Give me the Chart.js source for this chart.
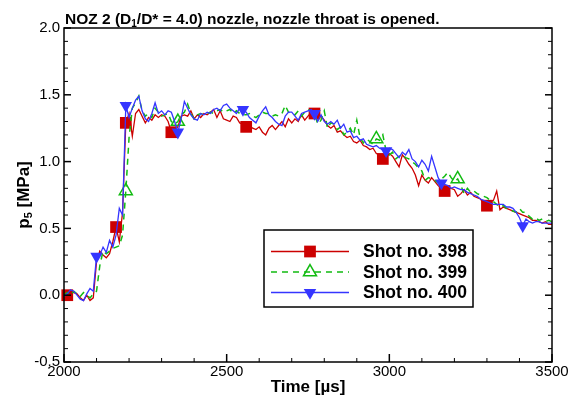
<!DOCTYPE html>
<html>
<head>
<meta charset="utf-8">
<script src="https://cdn.jsdelivr.net/npm/chart.js@4.4.1/dist/chart.umd.min.js"></script>
<style>
  body { margin: 0; background: #fff; }
  #wrap { width: 577px; height: 396px; }
</style>
</head>
<body>
<div id="wrap"><canvas id="p5Chart"></canvas></div>
<script>
const FONT = "'Liberation Sans', Arial, Helvetica, sans-serif";

// sample times [us]
const times = [
  2000, 2010, 2020, 2030, 2040, 2050, 2060, 2070, 2080, 2090,
  2100, 2110, 2120, 2130, 2140, 2150, 2160, 2170, 2180, 2190,
  2200, 2210, 2220, 2230, 2240, 2250, 2260, 2270, 2280, 2290,
  2300, 2310, 2320, 2330, 2340, 2350, 2360, 2370, 2380, 2390,
  2400, 2410, 2420, 2430, 2440, 2450, 2460, 2470, 2480, 2490,
  2500, 2510, 2520, 2530, 2540, 2550, 2560, 2570, 2580, 2590,
  2600, 2610, 2620, 2630, 2640, 2650, 2660, 2670, 2680, 2690,
  2700, 2710, 2720, 2730, 2740, 2750, 2760, 2770, 2780, 2790,
  2800, 2810, 2820, 2830, 2840, 2850, 2860, 2870, 2880, 2890,
  2900, 2910, 2920, 2930, 2940, 2950, 2960, 2970, 2980, 2990,
  3000, 3010, 3020, 3030, 3040, 3050, 3060, 3070, 3080, 3090,
  3100, 3110, 3120, 3130, 3140, 3150, 3160, 3170, 3180, 3190,
  3200, 3210, 3220, 3230, 3240, 3250, 3260, 3270, 3280, 3290,
  3300, 3310, 3320, 3330, 3340, 3350, 3360, 3370, 3380, 3390,
  3400, 3410, 3420, 3430, 3440, 3450, 3460, 3470, 3480, 3490,
  3500
];

// p5 [MPa] per shot
const shot398 = [
  0.02, 0.00, 0.03, 0.02, 0.01, -0.02, -0.04, 0.00, -0.04, -0.02,
  0.25, 0.33, 0.30, 0.28, 0.31, 0.40, 0.51, 0.40, 0.62, 1.29,
  1.36, 1.19, 1.36, 1.39, 1.34, 1.29, 1.33, 1.31, 1.35, 1.33,
  1.35, 1.34, 1.30, 1.22, 1.24, 1.26, 1.34, 1.35, 1.34, 1.38,
  1.32, 1.35, 1.33, 1.36, 1.35, 1.37, 1.39, 1.33, 1.38, 1.32,
  1.31, 1.30, 1.34, 1.33, 1.29, 1.28, 1.26, 1.27, 1.25, 1.24,
  1.26, 1.22, 1.20, 1.25, 1.27, 1.24, 1.27, 1.30, 1.26, 1.32,
  1.29, 1.32, 1.30, 1.35, 1.31, 1.34, 1.37, 1.36, 1.32, 1.34,
  1.31, 1.27, 1.25, 1.27, 1.22, 1.23, 1.20, 1.18, 1.19, 1.15,
  1.14, 1.16, 1.12, 1.11, 1.09, 1.10, 1.06, 1.05, 1.02, 1.03,
  1.06, 1.04, 1.00, 0.96, 1.05, 1.02, 0.98, 0.95, 0.90, 0.82,
  0.90, 0.86, 0.84, 0.88, 0.85, 0.82, 0.80, 0.78, 0.81, 0.80,
  0.79, 0.74, 0.76, 0.79, 0.75, 0.77, 0.74, 0.73, 0.72, 0.69,
  0.67, 0.70, 0.71, 0.78, 0.64, 0.66, 0.65, 0.64, 0.63, 0.62,
  0.61, 0.60, 0.59, 0.58, 0.56, 0.56, 0.55, 0.54, 0.55, 0.53,
  0.53
];
const shot399 = [
  0.00, 0.02, 0.00, 0.03, 0.01, -0.01, 0.02, 0.00, -0.02, 0.01,
  0.03, 0.22, 0.33, 0.31, 0.33, 0.35, 0.36, 0.37, 0.45, 0.78,
  1.18, 1.40, 1.44, 1.49, 1.38, 1.34, 1.36, 1.33, 1.40, 1.37,
  1.34, 1.35, 1.36, 1.30, 1.28, 1.30, 1.35, 1.37, 1.43, 1.36,
  1.32, 1.35, 1.36, 1.35, 1.36, 1.37, 1.36, 1.38, 1.39, 1.37,
  1.38, 1.39, 1.36, 1.38, 1.36, 1.35, 1.35, 1.36, 1.34, 1.33,
  1.35, 1.37, 1.36, 1.36, 1.34, 1.35, 1.34, 1.36, 1.42, 1.37,
  1.36, 1.35, 1.38, 1.34, 1.37, 1.39, 1.37, 1.36, 1.28, 1.31,
  1.38, 1.25, 1.29, 1.28, 1.24, 1.26, 1.20, 1.22, 1.25, 1.20,
  1.31, 1.18, 1.14, 1.17, 1.15, 1.13, 1.17, 1.16, 1.20, 1.08,
  1.05, 1.07, 1.02, 1.04, 1.05, 1.03, 1.02, 1.00, 0.98, 0.95,
  0.93, 0.86, 0.88, 0.87, 0.86, 0.84, 0.87, 0.89, 0.92, 0.88,
  0.85, 0.87, 0.82, 0.76, 0.80, 0.77, 0.78, 0.76, 0.75, 0.74,
  0.73, 0.71, 0.70, 0.68, 0.66, 0.67, 0.65, 0.64, 0.63, 0.62,
  0.65, 0.62, 0.62, 0.59, 0.57, 0.58, 0.56, 0.57, 0.55, 0.56,
  0.55
];
const shot400 = [
  -0.01, 0.01, 0.04, 0.03, 0.00, -0.03, -0.04, 0.01, 0.05, 0.03,
  0.29, 0.30, 0.36, 0.32, 0.41, 0.36, 0.45, 0.65, 0.60, 1.42,
  1.33, 1.40, 1.46, 1.49, 1.38, 1.32, 1.30, 1.36, 1.44, 1.36,
  1.38, 1.35, 1.38, 1.37, 1.30, 1.22, 1.32, 1.45, 1.40, 1.35,
  1.32, 1.31, 1.36, 1.35, 1.37, 1.36, 1.39, 1.40, 1.38, 1.42,
  1.43, 1.40, 1.38, 1.36, 1.40, 1.39, 1.37, 1.33, 1.31, 1.29,
  1.34, 1.38, 1.41, 1.35, 1.33, 1.30, 1.28, 1.27, 1.34, 1.37,
  1.37, 1.34, 1.31, 1.36, 1.37, 1.38, 1.39, 1.36, 1.30, 1.35,
  1.30, 1.28, 1.30, 1.28, 1.31, 1.25, 1.28, 1.22, 1.23, 1.18,
  1.19, 1.16, 1.17, 1.13, 1.12, 1.11, 1.12, 1.10, 1.09, 1.08,
  1.10, 1.09, 1.06, 1.03, 1.07, 1.05, 1.09, 1.02, 1.00, 0.96,
  1.01, 0.98, 0.93, 1.04, 0.96, 0.88, 0.84, 0.83, 0.82, 0.80,
  0.81, 0.80, 0.79, 0.79, 0.77, 0.76, 0.75, 0.74, 0.72, 0.71,
  0.70, 0.69, 0.68, 0.68, 0.68, 0.68, 0.66, 0.66, 0.65, 0.62,
  0.58, 0.52, 0.57, 0.55, 0.54, 0.55, 0.55, 0.54, 0.54, 0.54,
  0.54
];

// times at which a symbol is drawn on each curve
const marks398 = [2010, 2160, 2190, 2330, 2560, 2770, 2980, 3170, 3300];
const marks399 = [2190, 2350, 2960, 3210];
const marks400 = [2100, 2190, 2350, 2550, 2770, 2990, 3160, 3410];

const seriesLabels = ["Shot no. 398", "Shot no. 399", "Shot no. 400"];
const xTicks = [2000, 2500, 3000, 3500];
const yTicks = [-0.5, 0.0, 0.5, 1.0, 1.5, 2.0];

function series(label, values, marks, st) {
  return {
    label: label,
    data: times.map((t, i) => ({ x: t, y: values[i] })),
    borderColor: st.color,
    borderWidth: st.width,
    borderDash: st.dash || [],
    pointStyle: st.point,
    rotation: st.rotation || 0,
    radius: (c) => (c.raw && marks.includes(c.raw.x) ? st.radius : 0),
    pointBackgroundColor: st.fill,
    pointBorderColor: st.color,
    pointBorderWidth: st.pointBorder,
    order: st.order,
    clip: false,
    tension: 0,
    legendRadius: st.radius,
  };
}

// frame + inward ticks (bottom, left, right), no ticks on top
const frameTicks = {
  id: "frameTicks",
  afterDatasetsDraw(chart) {
    const { ctx, chartArea: a, scales } = chart;
    const x = scales.x, y = scales.y;
    ctx.save();
    ctx.strokeStyle = "#000";
    const seg = (x1, y1, x2, y2, w) => {
      ctx.beginPath();
      ctx.lineWidth = w;
      ctx.moveTo(x1, y1);
      ctx.lineTo(x2, y2);
      ctx.stroke();
    };
    for (let v = x.min; v <= x.max + 1e-6; v += 100) {
      const px = x.getPixelForValue(v);
      const major = Math.round(v) % 500 === 0;
      seg(px, a.bottom, px, a.bottom - (major ? 8 : 4), major ? 1.5 : 1);
    }
    for (let i = 0; i <= 25; i++) {
      const py = y.getPixelForValue(y.min + i * 0.1);
      const major = i % 5 === 0;
      const len = major ? 7 : 4;
      seg(a.left, py, a.left + len, py, major ? 1.5 : 1);
      seg(a.right, py, a.right - len, py, major ? 1.5 : 1);
    }
    ctx.lineWidth = 1.5;
    ctx.strokeRect(a.left, a.top, a.right - a.left, a.bottom - a.top);
    ctx.restore();
  },
};

// legend box inside the plot
const legendBox = {
  id: "legendBox",
  afterDraw(chart) {
    const { ctx } = chart;
    const bx = 264, by = 230, bw = 209, bh = 77;
    ctx.save();
    ctx.fillStyle = "#fff";
    ctx.fillRect(bx, by, bw, bh);
    ctx.strokeStyle = "#000";
    ctx.lineWidth = 1.5;
    ctx.strokeRect(bx, by, bw, bh);
    chart.data.datasets.forEach((ds, i) => {
      const ry = by + 21.5 + i * 20.5;
      ctx.beginPath();
      ctx.strokeStyle = ds.borderColor;
      ctx.lineWidth = ds.borderWidth;
      ctx.setLineDash(ds.borderDash);
      ctx.moveTo(bx + 7, ry);
      ctx.lineTo(bx + 85, ry);
      ctx.stroke();
      ctx.setLineDash([]);
      ctx.fillStyle = ds.pointBackgroundColor;
      ctx.strokeStyle = ds.pointBorderColor;
      Chart.helpers.drawPoint(ctx, {
        pointStyle: ds.pointStyle,
        rotation: ds.rotation,
        radius: ds.legendRadius,
        borderWidth: ds.pointBorderWidth,
      }, bx + 46, ry);
      ctx.fillStyle = "#000";
      ctx.font = "bold 17.5px " + FONT;
      ctx.textAlign = "left";
      ctx.textBaseline = "middle";
      ctx.fillText(ds.label, bx + 99, ry + 1);
    });
    ctx.restore();
  },
};

// plot title and y-axis title (both carry a subscript)
const titles = {
  id: "titles",
  afterDraw(chart) {
    const { ctx, chartArea: a } = chart;
    ctx.save();
    ctx.fillStyle = "#000";
    ctx.textBaseline = "alphabetic";
    ctx.textAlign = "left";

    const big = "bold 15.5px " + FONT;
    const sub = "bold 10px " + FONT;
    let x0 = 65;
    const base = 24;
    ctx.font = big;
    ctx.fillText("NOZ 2 (D", x0, base);
    x0 += ctx.measureText("NOZ 2 (D").width;
    ctx.font = sub;
    ctx.fillText("1", x0, base + 3);
    x0 += ctx.measureText("1").width;
    ctx.font = big;
    ctx.fillText("/D* = 4.0) nozzle, nozzle throat is opened.", x0, base);

    // rotated "p5 [MPa]"
    const yt = "bold 17px " + FONT;
    const ys = "bold 11px " + FONT;
    ctx.font = yt;
    const w1 = ctx.measureText("p").width;
    const w3 = ctx.measureText(" [MPa]").width;
    ctx.font = ys;
    const w2 = ctx.measureText("5").width;
    const total = w1 + w2 + w3;
    ctx.translate(29, (a.top + a.bottom) / 2);
    ctx.rotate(-Math.PI / 2);
    let lx = -total / 2;
    ctx.font = yt;
    ctx.fillText("p", lx, 0);
    lx += w1;
    ctx.font = ys;
    ctx.fillText("5", lx, 3);
    lx += w2;
    ctx.font = yt;
    ctx.fillText(" [MPa]", lx, 0);
    ctx.restore();
  },
};

Chart.defaults.color = "#000";
Chart.defaults.font.family = FONT;

const ctx = document.getElementById("p5Chart").getContext("2d");
window.p5Chart = new Chart(ctx, {
  type: "line",
  data: {
    datasets: [
      series(seriesLabels[0], shot398, marks398, {
        color: "#cc0000", width: 1.3, point: "rect", radius: 8.3,
        fill: "#cc0000", pointBorder: 0, order: 3,
      }),
      series(seriesLabels[1], shot399, marks399, {
        color: "#12bb12", width: 1.5, dash: [6, 5], point: "triangle", radius: 7.5,
        fill: "rgba(0,0,0,0)", pointBorder: 1.5, order: 2,
      }),
      series(seriesLabels[2], shot400, marks400, {
        color: "#3535ff", width: 1.3, point: "triangle", rotation: 180, radius: 7.2,
        fill: "#3535ff", pointBorder: 0, order: 1,
      }),
    ],
  },
  plugins: [frameTicks, legendBox, titles],
  options: {
    responsive: true,
    maintainAspectRatio: false,
    animation: false,
    layout: { padding: { top: 28, right: 25, left: 0, bottom: 0 } },
    plugins: {
      legend: { display: false },
      tooltip: { enabled: false },
    },
    scales: {
      x: {
        type: "linear",
        min: 2000,
        max: 3500,
        afterBuildTicks: (s) => { s.ticks = xTicks.map((v) => ({ value: v })); },
        afterFit: (s) => { s.height = 34; },
        grid: { display: false, drawTicks: false },
        border: { display: false },
        ticks: {
          font: { size: 15 },
          padding: 1,
          maxRotation: 0,
          autoSkip: false,
          callback: (v) => String(v),
        },
        title: {
          display: true,
          text: "Time [\u00b5s]",
          font: { size: 17, weight: "bold", lineHeight: 1.0 },
          padding: { top: 0, bottom: 0 },
        },
      },
      y: {
        min: -0.5,
        max: 2.0,
        afterBuildTicks: (s) => { s.ticks = yTicks.map((v) => ({ value: v })); },
        afterFit: (s) => { s.width = 64; },
        grid: { display: false, drawTicks: false },
        border: { display: false },
        ticks: {
          font: { size: 15 },
          padding: 4,
          callback: (v) => Number(v).toFixed(1),
        },
      },
    },
  },
});
</script>
</body>
</html>
